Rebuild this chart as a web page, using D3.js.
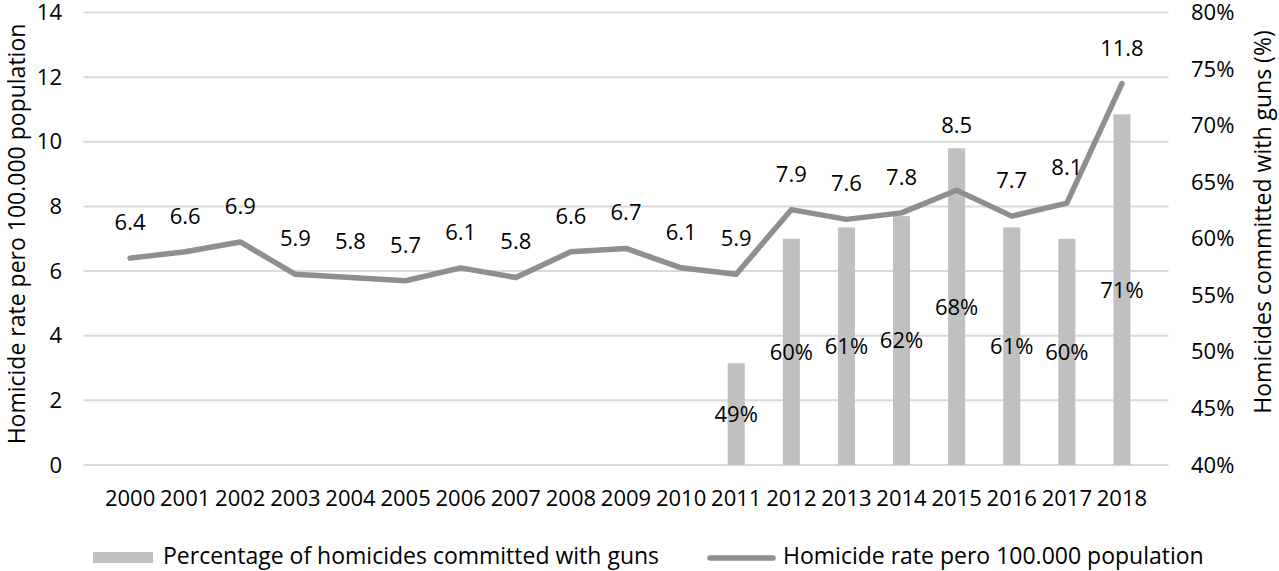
<!DOCTYPE html>
<html>
<head>
<meta charset="utf-8">
<script src="https://cdn.jsdelivr.net/npm/d3@7"></script>
<style>
  html, body { margin: 0; padding: 0; background: #fff; }
  svg { display: block; font-family: "Open Sans", "Noto Sans", sans-serif; }
</style>
</head>
<body>
<svg id="chart" width="1279" height="571"></svg>
<script>
const years = ["2000","2001","2002","2003","2004","2005","2006","2007","2008","2009","2010","2011","2012","2013","2014","2015","2016","2017","2018"];
const homicideRate = [6.4, 6.6, 6.9, 5.9, 5.8, 5.7, 6.1, 5.8, 6.6, 6.7, 6.1, 5.9, 7.9, 7.6, 7.8, 8.5, 7.7, 8.1, 11.8];
const gunYears = ["2011","2012","2013","2014","2015","2016","2017","2018"];
const gunPct = [49, 60, 61, 62, 68, 61, 60, 71];
const leftTicks = [0, 2, 4, 6, 8, 10, 12, 14];
const rightTicks = [40, 45, 50, 55, 60, 65, 70, 75, 80];

const svg = d3.select("#chart");
const m = { left: 83.5, right: 1168.5, top: 12.5, bottom: 465 };
const fs = 22;     // numbers
const fsT = 23;    // titles / legend

const x = d3.scaleBand().domain(years).range([m.left, m.right]).padding(0.69);
const yL = d3.scaleLinear().domain([0, 14]).range([m.bottom, m.top]);
const yR = d3.scaleLinear().domain([40, 80]).range([m.bottom, m.top]);
const cx = d => x(d) + x.bandwidth() / 2;

// gridlines
svg.append("g").selectAll("line").data(leftTicks).join("line")
  .attr("x1", m.left).attr("x2", m.right)
  .attr("y1", d => yL(d)).attr("y2", d => yL(d))
  .attr("stroke", "#d9d9d9").attr("stroke-width", 2);

// left axis
const axL = d3.axisLeft(yL).tickValues(leftTicks).tickSize(0).tickPadding(0);
const gL = svg.append("g").attr("transform", "translate(62,0)").call(axL);
gL.select(".domain").remove();
gL.selectAll("text").attr("font-size", fs).attr("fill", "#000").attr("font-family", "Open Sans");

// right axis
const axR = d3.axisRight(yR).tickValues(rightTicks).tickSize(0).tickPadding(0).tickFormat(d => d + "%");
const gR = svg.append("g").attr("transform", "translate(1191,0)").call(axR);
gR.select(".domain").remove();
gR.selectAll("text").attr("font-size", fs).attr("fill", "#000").attr("font-family", "Open Sans");

// x axis
const axX = d3.axisBottom(x).tickSize(0).tickPadding(0);
const gX = svg.append("g").attr("transform", "translate(0,489)").call(axX);
gX.select(".domain").remove();
gX.selectAll("text").attr("font-size", fs).attr("fill", "#000").attr("font-family", "Open Sans").attr("dy", "0.78em");

const barData = gunYears.map((yy, i) => ({ y: yy, v: gunPct[i] }));
const barTop = {};
barData.forEach(d => { barTop[d.y] = yR(d.v); });

// bars
svg.append("g").selectAll("rect").data(barData).join("rect")
  .attr("x", d => x(d.y)).attr("width", x.bandwidth())
  .attr("y", d => yR(d.v)).attr("height", d => yR(40) - yR(d.v))
  .attr("fill", "#c0c0c0");

// line
const line = d3.line().x((d, i) => cx(years[i])).y(d => yL(d));
svg.append("path").datum(homicideRate).attr("d", line)
  .attr("fill", "none").attr("stroke", "#8f8f8f").attr("stroke-width", 5.5)
  .attr("stroke-linejoin", "round").attr("stroke-linecap", "round");

// bar labels (center)
svg.append("g").selectAll("text").data(barData).join("text")
  .attr("x", d => cx(d.y)).attr("y", d => (yR(d.v) + yR(40)) / 2)
  .attr("dy", "0.36em").attr("text-anchor", "middle").attr("font-size", fs)
  .text(d => d.v + "%");

// line labels (above; lifted above a bar when they would sit on it)
svg.append("g").selectAll("text").data(homicideRate).join("text")
  .attr("x", (d, i) => cx(years[i]))
  .attr("y", (d, i) => {
    let c = yL(d) - 36;
    const bt = barTop[years[i]];
    if (bt !== undefined && c > bt - 10) c = bt - 23;
    return c;
  })
  .attr("dy", "0.36em")
  .attr("text-anchor", "middle").attr("font-size", fs)
  .text(d => d.toFixed(1));

// axis titles
svg.append("text").attr("transform", "translate(25,234) rotate(-90)")
  .attr("text-anchor", "middle").attr("font-size", fsT)
  .text("Homicide rate pero 100.000 population");
svg.append("text").attr("transform", "translate(1271,222) rotate(-90)")
  .attr("text-anchor", "middle").attr("font-size", fsT)
  .text("Homicides committed with guns (%)");

// legend
const lg = svg.append("g");
lg.append("rect").attr("x", 93).attr("y", 552).attr("width", 60).attr("height", 11).attr("fill", "#c0c0c0");
lg.append("text").attr("x", 163).attr("y", 556).attr("dy", "0.36em").attr("font-size", fsT)
  .text("Percentage of homicides committed with guns");
lg.append("line").attr("x1", 710).attr("x2", 773).attr("y1", 558).attr("y2", 558)
  .attr("stroke", "#8f8f8f").attr("stroke-width", 5.5).attr("stroke-linecap", "round");
lg.append("text").attr("x", 783).attr("y", 556).attr("dy", "0.36em").attr("font-size", fsT)
  .text("Homicide rate pero 100.000 population");
</script>
</body>
</html>
